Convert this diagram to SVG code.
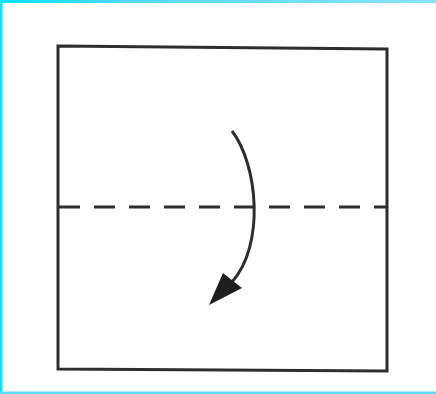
<svg xmlns="http://www.w3.org/2000/svg" width="436" height="394" viewBox="0 0 436 394">
  <defs>
    <linearGradient id="topg" x1="0" y1="0" x2="1" y2="0">
      <stop offset="0" stop-color="#00e4ff"/>
      <stop offset="0.3" stop-color="#55d8f6"/>
      <stop offset="1" stop-color="#86e4f8"/>
    </linearGradient>
    <style>
      .ink { stroke: #2e2e2e; fill: none; stroke-width: 3; }
      .fold { stroke: #2e2e2e; stroke-width: 3; stroke-dasharray: 21 14; fill: none; }
    </style>
  </defs>
  <rect width="436" height="394" fill="#ffffff"/>
  <g id="border">
    <rect x="0" y="0" width="436" height="3" fill="url(#topg)"/>
    <rect x="0" y="0" width="2.5" height="394" fill="#00e4ff"/>
    <rect x="0" y="391.5" width="436" height="2.5" fill="#5fdcf5"/>
  </g>
  <g id="paper">
    <polygon class="ink" points="58,46 387,49 387,371 58,369" stroke-linejoin="miter"/>
  </g>
  <g id="fold-line">
    <line class="fold" x1="59" y1="207" x2="386" y2="207"/>
  </g>
  <g id="connectors">
    <path class="ink" d="M232,131 C258,165 265,245 232,282" stroke-width="2.6"/>
    <polygon points="209,305 223,273 233,281 242,288" fill="#1e1e1e"/>
  </g>
</svg>
